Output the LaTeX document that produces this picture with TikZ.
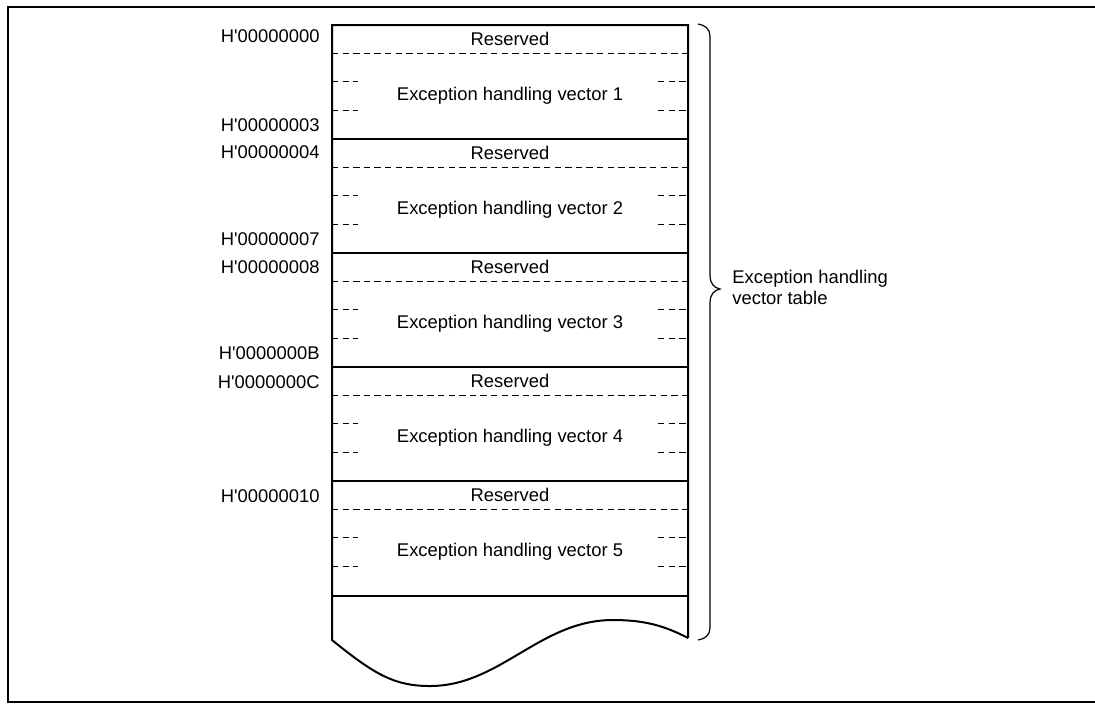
\documentclass[tikz,border=0pt]{standalone}
\usepackage{fontspec}
\setmainfont{Liberation Sans}
\usetikzlibrary{positioning}

\tikzset{
  cell/.style={font=\fontsize{9.2}{10.5}\selectfont, inner sep=0pt},
  addr/.style={font=\fontsize{9.2}{10.5}\selectfont, inner sep=0pt, anchor=east},
  solidline/.style={line width=1pt},
  dashline/.style={line width=0.5pt, dash pattern=on 3.2pt off 2.1pt},
}

\begin{document}
\begin{tikzpicture}[x=0.5pt,y=-0.5pt]
\useasboundingbox (0,0) rectangle (1095,703);
\draw[line width=1pt] (1095,7) -- (8,7) -- (8,702) -- (1095,702);

% table outline with torn bottom
\draw[solidline, line join=miter] (688,638) -- (688,25) -- (332,25) -- (332,640)
  .. controls (375,675) and (395,686) .. (430,686)
  .. controls (500,686) and (540,620) .. (613,620)
  .. controls (645,620) and (665,626) .. (688,638);

\draw[solidline] (332,139) -- (688,139);
\draw[solidline] (332,253) -- (688,253);
\draw[solidline] (332,367) -- (688,367);
\draw[solidline] (332,481) -- (688,481);
\draw[solidline] (332,596) -- (688,596);

% block 1
\draw[dashline] (332,53) -- (688,53);
\draw[dashline] (332,81) -- (358,81);
\draw[dashline] (658,81) -- (688,81);
\draw[dashline] (332,110) -- (358,110);
\draw[dashline] (658,110) -- (688,110);

% block 2
\draw[dashline] (332,167) -- (688,167);
\draw[dashline] (332,195) -- (358,195);
\draw[dashline] (658,195) -- (688,195);
\draw[dashline] (332,224) -- (358,224);
\draw[dashline] (658,224) -- (688,224);

% block 3
\draw[dashline] (332,281) -- (688,281);
\draw[dashline] (332,309) -- (358,309);
\draw[dashline] (658,309) -- (688,309);
\draw[dashline] (332,338) -- (358,338);
\draw[dashline] (658,338) -- (688,338);

% block 4
\draw[dashline] (332,395) -- (688,395);
\draw[dashline] (332,423) -- (358,423);
\draw[dashline] (658,423) -- (688,423);
\draw[dashline] (332,452) -- (358,452);
\draw[dashline] (658,452) -- (688,452);

% block 5
\draw[dashline] (332,509) -- (688,509);
\draw[dashline] (332,537) -- (358,537);
\draw[dashline] (658,537) -- (688,537);
\draw[dashline] (332,566) -- (358,566);
\draw[dashline] (658,566) -- (688,566);

\node[cell] (res1) at (510,39) {Reserved};
\node[cell] (res2) at (510,153) {Reserved};
\node[cell] (res3) at (510,267) {Reserved};
\node[cell] (res4) at (510,381) {Reserved};
\node[cell] (res5) at (510,495) {Reserved};

\node[cell] (vec1) at (510,96) {Exception handling vector 1};
\node[cell] (vec2) at (510,210) {Exception handling vector 2};
\node[cell] (vec3) at (510,324) {Exception handling vector 3};
\node[cell] (vec4) at (510,438) {Exception handling vector 4};
\node[cell] (vec5) at (510,552) {Exception handling vector 5};

\node[addr] (adr0) at (320,36) {H\textquotesingle 00000000};
\node[addr] (adr3) at (320,125) {H\textquotesingle 00000003};
\node[addr] (adr4) at (320,152) {H\textquotesingle 00000004};
\node[addr] (adr7) at (320,239) {H\textquotesingle 00000007};
\node[addr] (adr8) at (320,267) {H\textquotesingle 00000008};
\node[addr] (adrB) at (320,353) {H\textquotesingle 0000000B};
\node[addr] (adrC) at (320,382) {H\textquotesingle 0000000C};
\node[addr] (adr10) at (320,496) {H\textquotesingle 00000010};

% brace
\coordinate (btop) at (698,24);
\coordinate (btip) at (720,289);
\coordinate (bbot) at (698,640);
\draw[line width=0.6pt] (btop) .. controls (705,25) and (710,29) .. (710,36) -- (710,276)
  .. controls (710,283) and (714,288) .. (btip)
  .. controls (714,290) and (710,295) .. (710,302) -- (710,628)
  .. controls (710,635) and (705,639) .. (bbot);
\node[cell, align=left, anchor=west] (tbl) at (732,287) {Exception handling\\vector table};
\end{tikzpicture}
\end{document}
